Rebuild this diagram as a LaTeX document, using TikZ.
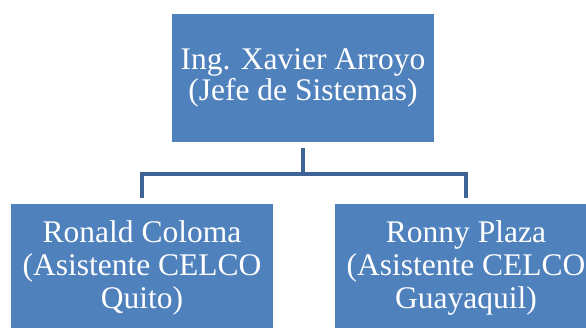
\documentclass[tikz,border=0pt]{standalone}
\usepackage{fontspec}
\setmainfont{Liberation Serif}
\usepackage{xcolor}

\definecolor{boxblue}{RGB}{79,129,189}
\definecolor{linkblue}{RGB}{61,100,148}

\tikzset{
	orgbox/.style={fill=boxblue, text=white, minimum width=262pt, minimum height=128pt,
		inner sep=0pt, align=center},
	topfont/.style={font=\fontsize{31.5}{30.5}\selectfont},
	subfont/.style={font=\fontsize{31.5}{33}\selectfont},
	orglink/.style={draw=linkblue, line width=4pt, shorten <=6pt, shorten >=6pt}
}

\begin{document}
\begin{tikzpicture}[x=1pt,y=1pt]
	\useasboundingbox (0,0) rectangle (586,-327);
	\clip (0,0) rectangle (586,-327);
	\node[orgbox,topfont] (jefe) at (303,-78) {Ing. Xavier Arroyo\\(Jefe de Sistemas)};
	\node[orgbox,subfont] (quito) at (142,-268) {Ronald Coloma\\(Asistente CELCO\\Quito)};
	\node[orgbox,subfont] (gye) at (466,-268) {Ronny Plaza\\(Asistente CELCO\\Guayaquil)};
	\draw[orglink] (jefe.south) -- ++(0,-32) -| (quito.north);
	\draw[orglink] (jefe.south) -- ++(0,-32) -| (gye.north);
\end{tikzpicture}
\end{document}
